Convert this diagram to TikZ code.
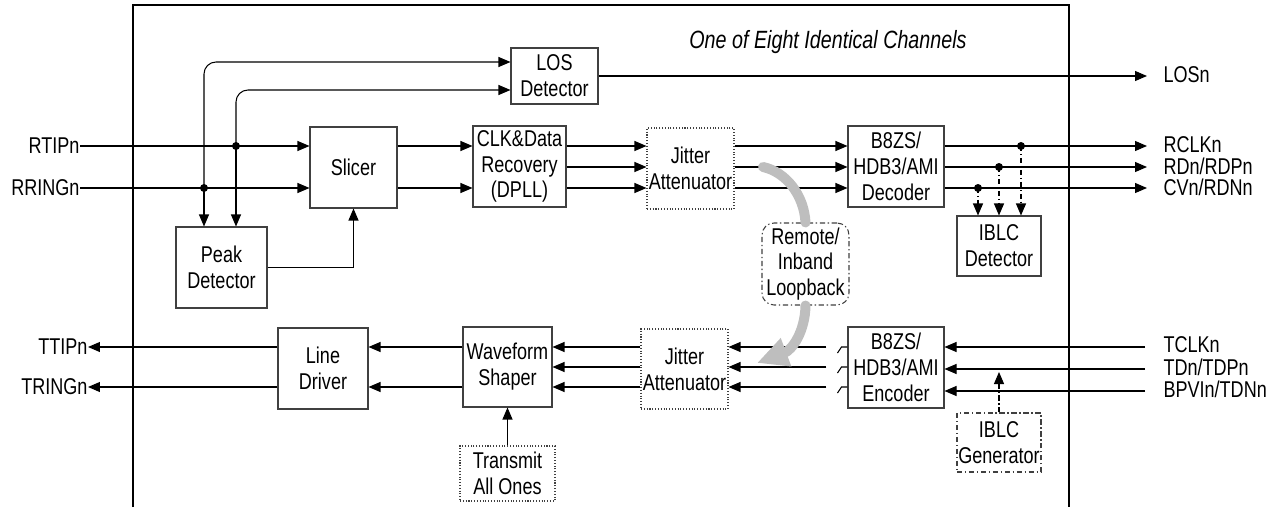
\documentclass[tikz,border=0pt,12pt]{standalone}
\usepackage{fontspec}
\setmainfont{Liberation Sans}[FakeStretch=0.79]
\usetikzlibrary{arrows.meta,calc}
\definecolor{boxline}{HTML}{404040}
\definecolor{loopgray}{HTML}{BEBEBE}

\begin{document}
\begin{tikzpicture}[x=0.02cm, y=-0.02cm, line width=0.6pt, font=\fontsize{13}{14.7}\selectfont,
  box/.style={draw=boxline, align=center, inner sep=0pt, minimum width=1.74cm, minimum height=1.62cm},
  dotbox/.style={box, densely dotted},
  dashdot/.style={dash pattern=on 3pt off 1.5pt on 0.8pt off 1.5pt},
  ddbox/.style={box, dashdot},
  sig/.style={inner sep=0pt},
  arr/.style={-{Triangle[length=0.24cm, width=0.2cm]}},
  jdot/.style={circle, fill, inner sep=0pt, minimum size=0.16cm},
  lbarc/.style={draw=loopgray, line width=0.2cm, line cap=round}]
\useasboundingbox (0,0) rectangle (1281,507);
% channel frame
\draw (133,507) -- (133,5) -- (1069,5) -- (1069,507);
\node[font=\fontsize{14.2}{16}\selectfont\itshape] (title) at (828,42) {One of Eight Identical Channels};

% signal rows
\coordinate (rx1) at (0,146); \coordinate (rx2) at (0,167); \coordinate (rx3) at (0,188);
\coordinate (lA) at (0,62); \coordinate (lB) at (0,90);
\coordinate (tx1) at (0,347); \coordinate (tx2) at (0,367); \coordinate (tx3) at (0,387);
\coordinate (in1) at (0,347); \coordinate (in2) at (0,369); \coordinate (in3) at (0,391);
\coordinate (redge) at (1147,0); \coordinate (tedge) at (1145,0);

% receive path
\node[box, minimum height=1.12cm] (los) at (554.5,76) {LOS\\Detector};
\node[box] (slicer) at (353.5,167.5) {Slicer};
\node[box, minimum width=1.86cm] (cdr) at (519.5,166.5) {CLK\&Data\\Recovery\\(DPLL)};
\node[dotbox] (jrx) at (690.5,168.5) {Jitter\\Attenuator};
\node[box, minimum width=1.92cm] (dec) at (896,166.5) {B8ZS/\\HDB3/AMI\\Decoder};
\node[box, minimum width=1.68cm, minimum height=1.2cm] (ibd) at (999,246) {IBLC\\Detector};
\node[box, minimum width=1.82cm] (peak) at (221.5,267.5) {Peak\\Detector};
\node[ddbox, rounded corners=0.24cm, minimum height=1.64cm] (lbk) at (805.5,264) {Remote/\\Inband\\Loopback};

% transmit path
\node[box, minimum width=1.8cm] (ld) at (323,368.5) {Line\\Driver};
\node[box, minimum width=1.78cm, minimum height=1.6cm] (wav) at (507.5,367) {Waveform\\Shaper};
\node[dotbox, minimum height=1.6cm] (jtx) at (684.5,369) {Jitter\\Attenuator};
\node[box, minimum width=1.92cm] (enc) at (896,367.5) {B8ZS/\\HDB3/AMI\\Encoder};
\node[ddbox, minimum width=1.68cm, minimum height=1.18cm] (ibg) at (999,442.5) {IBLC\\Generator};
\node[dotbox, minimum width=1.9cm, minimum height=1.1cm] (tao) at (507.5,473.5) {Transmit\\All Ones};

% pins
\node[sig, anchor=east] (rtip) at (80,146) {RTIPn};
\node[sig, anchor=east] (rring) at (80,188) {RRINGn};
\node[sig, anchor=east] (ttip) at (88,347) {TTIPn};
\node[sig, anchor=east] (tring) at (88,387) {TRINGn};
\node[sig, anchor=west] (losn) at (1163,75) {LOSn};
\node[sig, anchor=west] (rclk) at (1163,145) {RCLKn};
\node[sig, anchor=west] (rdn) at (1163,166) {RDn/RDPn};
\node[sig, anchor=west] (cvn) at (1163,187) {CVn/RDNn};
\node[sig, anchor=west] (tclk) at (1163,345) {TCLKn};
\node[sig, anchor=west] (tdn) at (1163,367) {TDn/TDPn};
\node[sig, anchor=west] (bpv) at (1163,389) {BPVIn/TDNn};

% receive connectors
\draw[arr] (rtip.east) -- (slicer.west |- rx1);
\draw[arr] (rring.east) -- (slicer.west |- rx3);
\node[jdot] (tapA) at (236,146) {};
\node[jdot] (tapB) at (204,188) {};
\draw[arr, rounded corners=0.24cm] (tapB.center) |- (los.west |- lA);
\draw[arr, rounded corners=0.24cm] (tapA.center) |- (los.west |- lB);
\draw[arr] (tapB.center) -- (peak.north -| tapB);
\draw[arr] (tapA.center) -- (peak.north -| tapA);
\draw[arr] (peak.east) -| (slicer.south);
\draw[arr] (los.east) -- (redge |- los.east);
\foreach \r in {rx1,rx3} \draw[arr] (slicer.east |- \r) -- (cdr.west |- \r);
\foreach \r in {rx1,rx2,rx3} {
  \draw[arr] (cdr.east |- \r) -- (jrx.west |- \r);
  \draw[arr] (jrx.east |- \r) -- (dec.west |- \r);
  \draw[arr] (dec.east |- \r) -- (redge |- \r);
}
\node[jdot] (tap1) at (1021,146) {};
\node[jdot] (tap2) at (999,167) {};
\node[jdot] (tap3) at (978,188) {};
\foreach \t in {tap1,tap2,tap3} \draw[arr, dashdot] (\t.center) -- (ibd.north -| \t);

% transmit connectors
\foreach \r in {in1,in2,in3} \draw[arr] (tedge |- \r) -- (enc.east |- \r);
\draw[arr, dashdot, shorten >=0.06cm] (ibg.north) -- (ibg.north |- in2);
\foreach \r in {tx1,tx2,tx3} {
  \draw (enc.west |- \r) -- ++(-6,0) -- ++(-4,6);
  \draw[arr] ($(enc.west |- \r)+(-21,0)$) -- (jtx.east |- \r);
  \draw[arr] (jtx.west |- \r) -- (wav.east |- \r);
}
\foreach \r in {tx1,tx3} \draw[arr] (wav.west |- \r) -- (ld.east |- \r);
\draw[arr] (ld.west |- tx1) -- (ttip.east);
\draw[arr] (ld.west |- tx3) -- (tring.east);
\draw[arr] (tao.north) -- (wav.south);

% loopback
\coordinate (lbs) at (763,167);
\coordinate (lbe) at (757,363);
\draw[lbarc] (lbs) .. controls (786,172) and (804,195) .. (lbk.north);
\draw[lbarc, -{Triangle[length=0.62cm, width=0.56cm]}] (lbk.south) .. controls (805,332) and (792,350) .. (lbe);
\end{tikzpicture}
\end{document}
